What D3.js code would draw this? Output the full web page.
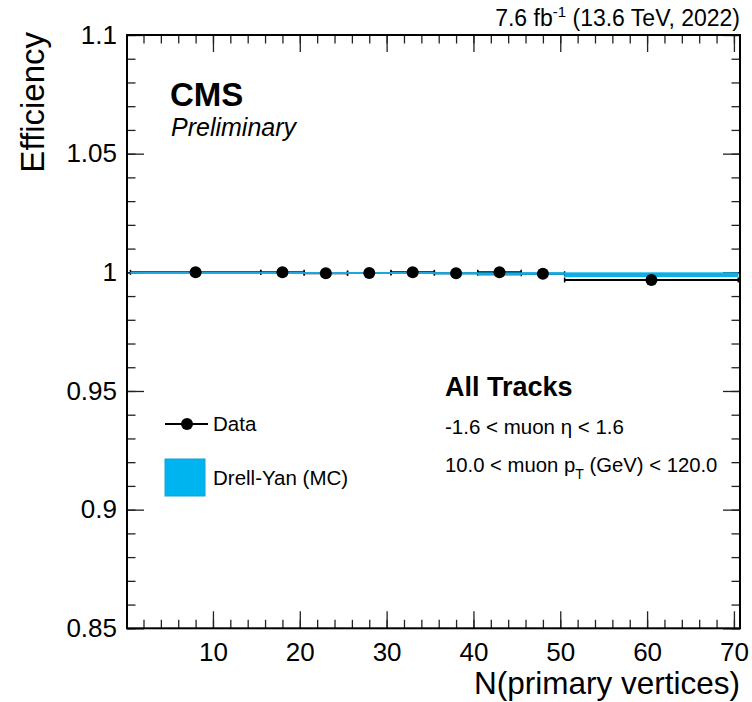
<!DOCTYPE html>
<html>
<head>
<meta charset="utf-8">
<script src="https://cdn.jsdelivr.net/npm/d3@7"></script>
<style>
  html, body { margin: 0; padding: 0; background: #fff; }
  svg { display: block; font-family: "Liberation Sans", Arial, Helvetica, sans-serif; }
</style>
</head>
<body>
<svg id="chart" width="752" height="702"></svg>
<script>
// ---- data ----
const binLow     = [0.5, 15.5, 20.5, 25.5, 30.5, 35.5, 40.5, 45.5, 50.5];
const binHigh    = [15.5, 20.5, 25.5, 30.5, 35.5, 40.5, 45.5, 50.5, 70.5];
const binCenters = [8, 18, 23, 28, 33, 38, 43, 48, 60.5];
const dataEff    = [1.0000, 1.0000, 0.9996, 0.9997, 1.0000, 0.9996, 1.0000, 0.9994, 0.9968];
const dataErr    = [0.0002, 0.0002, 0.0002, 0.0002, 0.0002, 0.0003, 0.0004, 0.0005, 0.0006];
const mcEff      = [0.9998, 0.9998, 0.9997, 0.9997, 0.9997, 0.9996, 0.9993, 0.9995, 0.9990];
const mcErr      = [0.0003, 0.0003, 0.0003, 0.0003, 0.0003, 0.0004, 0.0007, 0.0005, 0.0010];
const xMajorTicks = [10, 20, 30, 40, 50, 60, 70];
const xMinorTicks = d3.range(2, 71, 2);
const yMajorTicks = [0.85, 0.9, 0.95, 1.0, 1.05, 1.1];
const yTickLabels = ["0.85", "0.9", "0.95", "1", "1.05", "1.1"];
const yMinorTicks = d3.range(85, 111, 1).map(v => v / 100);

const svg = d3.select("#chart");
const L = 127, R = 740, T = 35, B = 628.3;
const x = d3.scaleLinear().domain([0.1, 70.7]).range([L, R]);
const y = d3.scaleLinear().domain([0.85, 1.1]).range([B, T]);

const MAJ = 17, MIN = 8.5;
const blue = "#00b4f0", blueLine = "#1fa6dc";

// ---- axes (ticks pointing inward on all four sides) ----
function styleAxis(g) {
  g.select(".domain").remove();
  g.selectAll(".tick line").attr("stroke", "#222").attr("stroke-width", 1.3);
}
// bottom
svg.append("g").attr("transform", `translate(0,${B})`)
  .call(d3.axisBottom(x).tickValues(xMinorTicks).tickSize(-MIN).tickFormat(""))
  .call(styleAxis);
svg.append("g").attr("transform", `translate(0,${B})`)
  .call(d3.axisBottom(x).tickValues(xMajorTicks).tickSize(-MAJ).tickPadding(14).tickFormat(d3.format("d")))
  .call(styleAxis)
  .call(g => g.selectAll("text").attr("font-size", 26).attr("fill", "#000"));
// top
svg.append("g").attr("transform", `translate(0,${T})`)
  .call(d3.axisTop(x).tickValues(xMinorTicks).tickSize(-MIN).tickFormat(""))
  .call(styleAxis);
svg.append("g").attr("transform", `translate(0,${T})`)
  .call(d3.axisTop(x).tickValues(xMajorTicks).tickSize(-MAJ).tickFormat(""))
  .call(styleAxis);
// left
svg.append("g").attr("transform", `translate(${L},0)`)
  .call(d3.axisLeft(y).tickValues(yMinorTicks).tickSize(-MIN).tickFormat(""))
  .call(styleAxis);
svg.append("g").attr("transform", `translate(${L},0)`)
  .call(d3.axisLeft(y).tickValues(yMajorTicks).tickSize(-MAJ).tickPadding(10)
        .tickFormat((d, i) => yTickLabels[i]))
  .call(styleAxis)
  .call(g => g.selectAll("text").attr("font-size", 26).attr("fill", "#000"));
// right
svg.append("g").attr("transform", `translate(${R},0)`)
  .call(d3.axisRight(y).tickValues(yMinorTicks).tickSize(-MIN).tickFormat(""))
  .call(styleAxis);
svg.append("g").attr("transform", `translate(${R},0)`)
  .call(d3.axisRight(y).tickValues(yMajorTicks).tickSize(-MAJ).tickFormat(""))
  .call(styleAxis);

// ---- data horizontal error bars ----
const idx = d3.range(binCenters.length);
const gData = svg.append("g");
gData.selectAll("line.hbar").data(idx).join("line")
  .attr("x1", i => x(binLow[i])).attr("x2", i => x(binHigh[i]))
  .attr("y1", i => y(dataEff[i])).attr("y2", i => y(dataEff[i]))
  .attr("stroke", "#000").attr("stroke-width", 2);
gData.selectAll("line.capl").data(idx).join("line")
  .attr("x1", i => x(binLow[i])).attr("x2", i => x(binLow[i]))
  .attr("y1", i => y(dataEff[i]) - 2.5).attr("y2", i => y(dataEff[i]) + 2.5)
  .attr("stroke", "#000").attr("stroke-width", 1.5);
gData.selectAll("line.capr").data(idx).join("line")
  .attr("x1", i => x(binHigh[i])).attr("x2", i => x(binHigh[i]))
  .attr("y1", i => y(dataEff[i]) - 2.5).attr("y2", i => y(dataEff[i]) + 2.5)
  .attr("stroke", "#000").attr("stroke-width", 1.5);

// ---- MC band ----
const gMC = svg.append("g");
gMC.selectAll("rect").data(idx).join("rect")
  .attr("x", i => x(binLow[i])).attr("width", i => x(binHigh[i]) - x(binLow[i]))
  .attr("y", i => y(mcEff[i] + mcErr[i]))
  .attr("height", i => y(mcEff[i] - mcErr[i]) - y(mcEff[i] + mcErr[i]))
  .attr("fill", blue);
gMC.selectAll("line").data(idx).join("line")
  .attr("x1", i => x(binLow[i])).attr("x2", i => x(binHigh[i]))
  .attr("y1", i => y(mcEff[i])).attr("y2", i => y(mcEff[i]))
  .attr("stroke", blueLine).attr("stroke-width", 2);

// ---- data points with vertical errors ----
svg.append("g").selectAll("line").data(idx).join("line")
  .attr("x1", i => x(binCenters[i])).attr("x2", i => x(binCenters[i]))
  .attr("y1", i => y(dataEff[i] + dataErr[i])).attr("y2", i => y(dataEff[i] - dataErr[i]))
  .attr("stroke", "#000").attr("stroke-width", 2);
svg.append("g").selectAll("circle").data(idx).join("circle")
  .attr("cx", i => x(binCenters[i])).attr("cy", i => y(dataEff[i]))
  .attr("r", 6).attr("fill", "#000");

// ---- frame ----
svg.append("rect").attr("x", L).attr("y", T).attr("width", R - L).attr("height", B - T)
  .attr("fill", "none").attr("stroke", "#000").attr("stroke-width", 2);

// ---- titles ----
svg.append("text").attr("x", R).attr("y", 694).attr("text-anchor", "end")
  .attr("font-size", 31.5).text("N(primary vertices)");
svg.append("text").attr("transform", `translate(44,32) rotate(-90)`)
  .attr("text-anchor", "end").attr("font-size", 33).text("Efficiency");

const lumi = svg.append("text").attr("x", R).attr("y", 26).attr("text-anchor", "end").attr("font-size", 23);
lumi.append("tspan").text("7.6 fb");
lumi.append("tspan").attr("font-size", 15).attr("dy", -9).text("-1");
lumi.append("tspan").attr("dy", 9).text(" (13.6 TeV, 2022)");

svg.append("text").attr("x", 170).attr("y", 106).attr("font-size", 33).attr("font-weight", "bold").text("CMS");
svg.append("text").attr("x", 171).attr("y", 136).attr("font-size", 25).attr("font-style", "italic").text("Preliminary");

// ---- legend ----
svg.append("line").attr("x1", 165).attr("x2", 208).attr("y1", 424).attr("y2", 424)
  .attr("stroke", "#000").attr("stroke-width", 2);
svg.append("circle").attr("cx", 187).attr("cy", 424).attr("r", 6).attr("fill", "#000");
svg.append("text").attr("x", 213).attr("y", 431).attr("font-size", 20.5).text("Data");
svg.append("rect").attr("x", 165).attr("y", 459).attr("width", 40).attr("height", 37)
  .attr("fill", blue).attr("stroke", "#1a9fd6").attr("stroke-width", 1);
svg.append("text").attr("x", 213).attr("y", 485).attr("font-size", 20.5).text("Drell-Yan (MC)");

// ---- selection labels ----
svg.append("text").attr("x", 445).attr("y", 396).attr("font-size", 27).attr("font-weight", "bold").text("All Tracks");
svg.append("text").attr("x", 445).attr("y", 434).attr("font-size", 20.5).text("-1.6 < muon η < 1.6");
const pt = svg.append("text").attr("x", 445).attr("y", 472).attr("font-size", 20.3);
pt.append("tspan").text("10.0 < muon p");
pt.append("tspan").attr("font-size", 14).attr("dy", 7).text("T");
pt.append("tspan").attr("dy", -7).text(" (GeV) < 120.0");
</script>
</body>
</html>
